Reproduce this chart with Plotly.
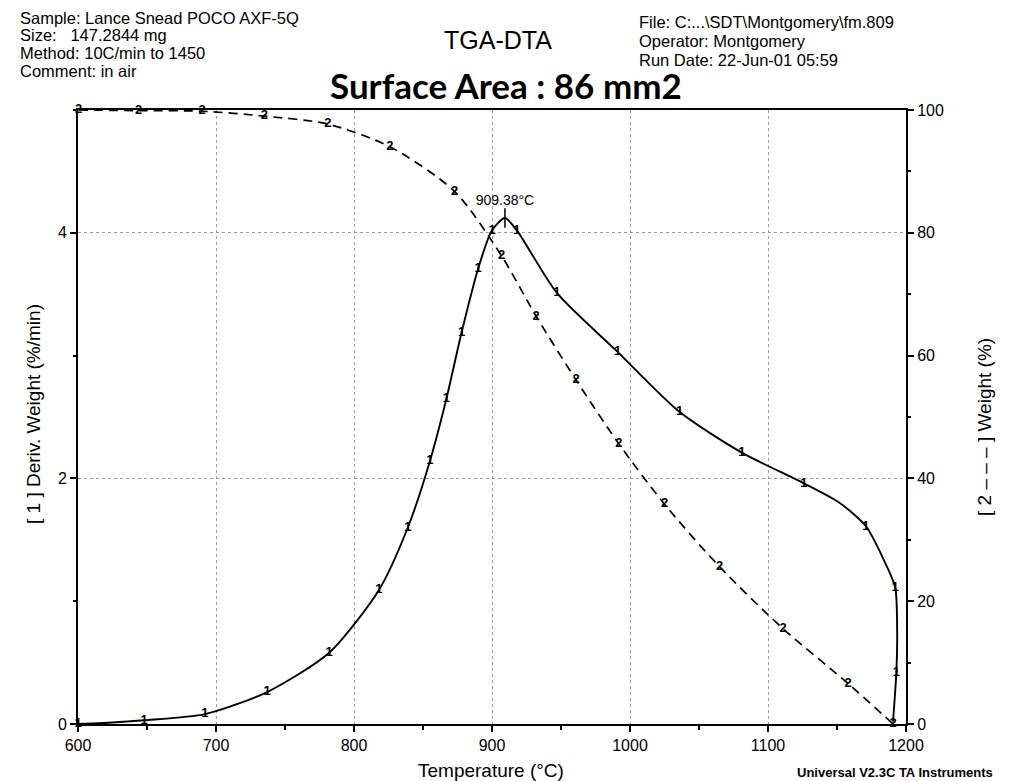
import plotly.graph_objects as go

# Derivative weight curve [1] (%/min) against temperature (°C)
deriv_temp = [600, 622, 648, 692, 737, 782, 818, 839, 855, 867, 878, 890, 900,
              909.38, 918, 947, 991, 1036, 1081, 1126, 1152, 1171, 1185,
              1192.2, 1193.6, 1193.0, 1190.6]
deriv_val = [0.0, 0.01, 0.03, 0.08, 0.26, 0.58, 1.09, 1.60, 2.14, 2.65, 3.19,
             3.71, 4.02, 4.12, 4.02, 3.51, 3.03, 2.54, 2.21, 1.96, 1.80, 1.61,
             1.31, 1.11, 0.75, 0.42, 0.02]
deriv_mark = ["1", "", "1", "1", "1", "1", "1", "1", "1", "1", "1", "1", "1",
              "", "1", "1", "1", "1", "1", "1", "", "1", "", "1", "", "1", ""]

# Weight curve [2] (%) against temperature (°C)
weight_temp = [600.5, 644, 690, 735, 781, 826, 873, 907, 932, 961, 992, 1025,
               1065, 1111, 1158, 1190.6]
weight_val = [100.0, 99.9, 99.8, 99.0, 97.7, 94.0, 86.7, 76.2, 66.4, 56.0,
              45.6, 35.8, 25.6, 15.5, 6.6, 0.0]
weight_mark = ["2"] * len(weight_temp)

# Peak of the derivative curve
peak_temp = 909.38
peak_val = max(deriv_val)

header_left = ["Sample: Lance Snead POCO AXF-5Q", "Size:   147.2844 mg",
               "Method: 10C/min to 1450", "Comment: in air"]
header_right = ["File: C:...\\SDT\\Montgomery\\fm.809", "Operator: Montgomery",
                "Run Date: 22-Jun-01 05:59"]

W, H = 1009, 781
L, R, T, B = 78, 103, 110, 57
PW, PH = W - L - R, H - T - B
FONT = "Liberation Sans, Arial, sans-serif"


def px(x):
    return (x - L) / PW


def py(y):
    return (H - B - y) / PH


def label(x, y, text, size, xanchor="center", angle=0, family=FONT):
    return dict(x=px(x), y=py(y), xref="paper", yref="paper", text=text,
                showarrow=False, xanchor=xanchor, yanchor="middle",
                textangle=angle,
                font=dict(family=family, size=size, color="black"))


fig = go.Figure()

fig.add_trace(go.Scatter(
    x=deriv_temp, y=deriv_val, mode="lines+text", text=deriv_mark,
    textposition="middle center", cliponaxis=False,
    textfont=dict(family=FONT, size=13, color="black", weight="bold"),
    line=dict(color="black", width=1.9, shape="spline", smoothing=0.7),
    yaxis="y", showlegend=False, hoverinfo="skip"))

fig.add_trace(go.Scatter(
    x=weight_temp, y=weight_val, mode="lines+text", text=weight_mark,
    textposition="middle center", cliponaxis=False,
    textfont=dict(family=FONT, size=13, color="black", weight="bold"),
    line=dict(color="black", width=1.7, dash="9px,6px", shape="spline",
              smoothing=0.8),
    yaxis="y2", showlegend=False, hoverinfo="skip"))

fig.add_trace(go.Scatter(
    x=[peak_temp], y=[peak_val], mode="markers+text",
    text=[f"{peak_temp:.2f}°C"], textposition="top center", cliponaxis=False,
    textfont=dict(family=FONT, size=14, color="black"),
    marker=dict(symbol="line-ns", size=14, line=dict(color="black", width=1.5)),
    yaxis="y", showlegend=False, hoverinfo="skip"))

ann = []
for txt, y in zip(header_left, [18, 35, 53, 71]):
    ann.append(label(18, y, txt, 16.5, xanchor="left"))
for txt, y in zip(header_right, [22, 41, 60]):
    ann.append(label(637, y, txt, 16.5, xanchor="left"))

ann += [
    label(498, 40, "TGA-DTA", 25),
    label(506, 85, "<b>Surface Area : 86 mm2</b>", 35,
          family="Lato, sans-serif"),
    label(491, 770, "Temperature (°C)", 19),
    label(895, 772, "<b>Universal V2.3C TA Instruments</b>", 13),
    label(33, 414, "[ 1 ] Deriv. Weight (%/min)", 19, angle=-90),
    label(984, 427, "[ 2 – – – ] Weight (%)", 19, angle=-90),
]

grid = dict(showgrid=True, gridcolor="#9a9a9a", gridwidth=1, griddash="dot")
tickfont = dict(family=FONT, size=16, color="black")

fig.update_layout(
    width=W, height=H, margin=dict(l=L, r=R, t=T, b=B),
    paper_bgcolor="white", plot_bgcolor="white",
    font=dict(family=FONT, size=16, color="black"),
    annotations=ann,
    xaxis=dict(range=[600, 1200], tick0=600, dtick=100, ticks="outside",
               ticklen=6, tickwidth=1.5, tickcolor="black", showline=True,
               linecolor="black", linewidth=2, mirror=True, zeroline=False,
               minor=dict(dtick=50, ticks="outside", ticklen=4,
                          tickcolor="black", showgrid=False),
               tickfont=tickfont, **grid),
    yaxis=dict(range=[0, 5], tickvals=[0, 2, 4], ticks="outside", ticklen=6,
               tickwidth=1.5, tickcolor="black", showline=True,
               linecolor="black", linewidth=2, zeroline=False,
               minor=dict(dtick=1, ticks="outside", ticklen=3,
                          tickcolor="black", showgrid=False),
               tickfont=tickfont, **grid),
    yaxis2=dict(range=[0, 100], dtick=20, overlaying="y", side="right",
                ticks="outside", ticklen=6, tickwidth=1.5, tickcolor="black",
                showline=True, linecolor="black", linewidth=2, zeroline=False,
                showgrid=False,
                minor=dict(dtick=10, ticks="outside", ticklen=3,
                           tickcolor="black"),
                tickfont=tickfont),
)

fig.write_html("out.html")
